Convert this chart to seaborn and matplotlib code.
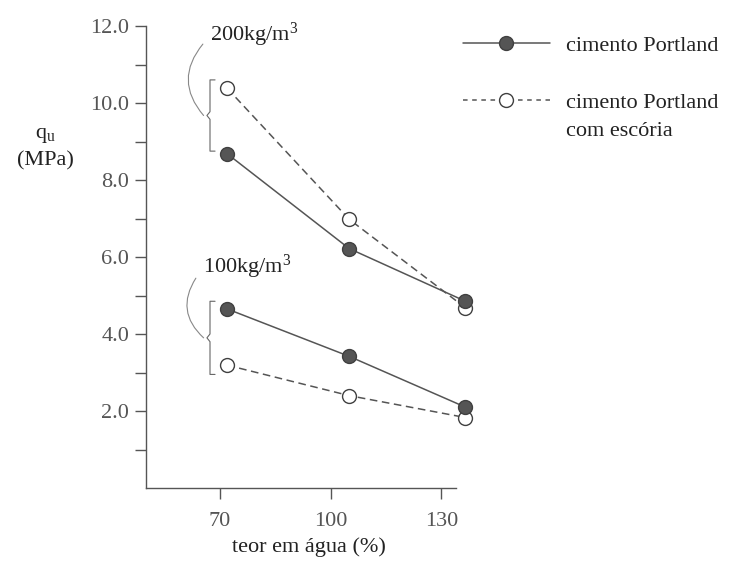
import matplotlib
matplotlib.use("Agg")
import matplotlib.pyplot as plt
from matplotlib.lines import Line2D
import seaborn as sns
import pandas as pd

# water content (%) and unconfined compressive strength qu (MPa)
water_content = [72, 105, 136.5]
qu_portland_200 = [8.68, 6.22, 4.85]
qu_slag_200 = [10.38, 6.98, 4.68]
qu_portland_100 = [4.65, 3.42, 2.10]
qu_slag_100 = [3.19, 2.40, 1.83]

dosages = ["200kg/m$^3$", "100kg/m$^3$"]
cement_types = ["cimento Portland", "cimento Portland\ncom escória"]
x_ticks = [70, 100, 130]
y_major = [2, 4, 6, 8, 10, 12]
y_minor = [1, 3, 5, 7, 9, 11]

sns.set_theme(style="white")
plt.rcParams["font.family"] = ["Liberation Serif", "DejaVu Serif"]
plt.rcParams["mathtext.fontset"] = "custom"
plt.rcParams["mathtext.rm"] = "Liberation Serif"
plt.rcParams["mathtext.it"] = "Liberation Serif:italic"

GRAY = "#555555"
EDGE = "#404040"
TEXT = "#222222"

rows = []
for dose, opc, slag in [(dosages[0], qu_portland_200, qu_slag_200),
                        (dosages[1], qu_portland_100, qu_slag_100)]:
    for w, v in zip(water_content, opc):
        rows.append({"dose": dose, "cement": cement_types[0], "w": w, "qu": v})
    for w, v in zip(water_content, slag):
        rows.append({"dose": dose, "cement": cement_types[1], "w": w, "qu": v})
df = pd.DataFrame(rows)

fig = plt.figure(figsize=(7.38, 5.61), dpi=100)
ax = fig.add_axes([146 / 738, 73 / 561, 325 / 738, 462 / 561])

styles = {
    cement_types[0]: dict(linestyle="-", mfc=GRAY, zorder=3),
    cement_types[1]: dict(linestyle=(0, (5, 3)), mfc="white", zorder=2),
}
for (dose, cement), grp in df.groupby(["dose", "cement"], sort=False):
    st = styles[cement]
    sns.lineplot(data=grp, x="w", y="qu", ax=ax, color=GRAY, lw=1.1,
                 linestyle=st["linestyle"], marker="o", markersize=10,
                 markerfacecolor=st["mfc"], markeredgecolor=EDGE,
                 markeredgewidth=1.0, estimator=None, legend=False,
                 clip_on=False, zorder=st["zorder"])

ax.set_xlim(50, 138)
ax.set_ylim(0, 12)
ax.spines["bottom"].set_bounds(50, 134)
for side in ["top", "right"]:
    ax.spines[side].set_visible(False)
for side in ["left", "bottom"]:
    ax.spines[side].set_color(GRAY)
    ax.spines[side].set_linewidth(1.0)

ax.set_xticks(x_ticks)
ax.set_xticklabels([str(t) for t in x_ticks])
ax.set_yticks(y_major)
ax.set_yticklabels([f"{t:.1f}" for t in y_major])
ax.set_yticks(y_minor, minor=True)
ax.tick_params(axis="both", which="both", direction="out", length=8, width=1.0,
               color=GRAY, labelsize=16, labelcolor=GRAY,
               bottom=True, left=True, top=False, right=False)
ax.tick_params(axis="x", which="minor", bottom=False)
ax.tick_params(axis="x", pad=9)
ax.tick_params(axis="y", pad=4)

ax.set_xlabel("teor em água (%)", fontsize=16, color=TEXT, labelpad=5)
ax.set_ylabel("q$_\\mathrm{u}$\n(MPa)", fontsize=16, color=TEXT, rotation=0,
              ha="center", va="center", linespacing=1.45)
ax.yaxis.set_label_coords(-0.31, 0.735)

# braces grouping the two cement types at each dosage
brace_specs = [
    # label, label xy, arc start (near label), brace (bottom, top)
    (dosages[0], (67.3, 11.78), (65.4, 11.53), (8.75, 10.6)),
    (dosages[1], (65.4, 5.74), (63.5, 5.45), (2.95, 4.85)),
]
for label, (lx, ly), (ax0, ay0), (b0, b1) in brace_specs:
    mid = (b0 + b1) / 2
    bx, tip, end = 67.33, 66.5, 68.7
    ax.plot([end, bx, bx, tip, bx, bx, end],
            [b1, b1, mid + 0.1, mid, mid - 0.1, b0, b0],
            color="#666666", lw=0.8, clip_on=False)
    ax.annotate("", xy=(tip - 0.9, mid), xytext=(ax0, ay0),
                arrowprops=dict(arrowstyle="-", color="#888888", lw=0.8,
                                connectionstyle="arc3,rad=0.42",
                                shrinkA=0, shrinkB=0),
                annotation_clip=False)
    ax.text(lx, ly, label, fontsize=16, color=TEXT, ha="left", va="center",
            clip_on=False)

handles = [
    Line2D([], [], color=GRAY, lw=1.1, linestyle="-", marker="o", markersize=10,
           markerfacecolor=GRAY, markeredgecolor=EDGE),
    Line2D([], [], linestyle="none"),
    Line2D([], [], color=GRAY, lw=1.1, linestyle=(0, (3, 3)), marker="o",
           markersize=10, markerfacecolor="white", markeredgecolor=EDGE),
    Line2D([], [], linestyle="none"),
]
labels = ["cimento Portland", " ", "cimento Portland", "com escória"]
leg = fig.legend(handles, labels, loc="upper left",
                 bbox_to_anchor=(463 / 738, 1 - 35 / 561),
                 bbox_transform=fig.transFigure, frameon=False, fontsize=16,
                 handlelength=3.9, handletextpad=0.75, labelspacing=0.36,
                 borderpad=0, borderaxespad=0, numpoints=1)
for t in leg.get_texts():
    t.set_color(TEXT)

fig.savefig("out.png", dpi=100)
